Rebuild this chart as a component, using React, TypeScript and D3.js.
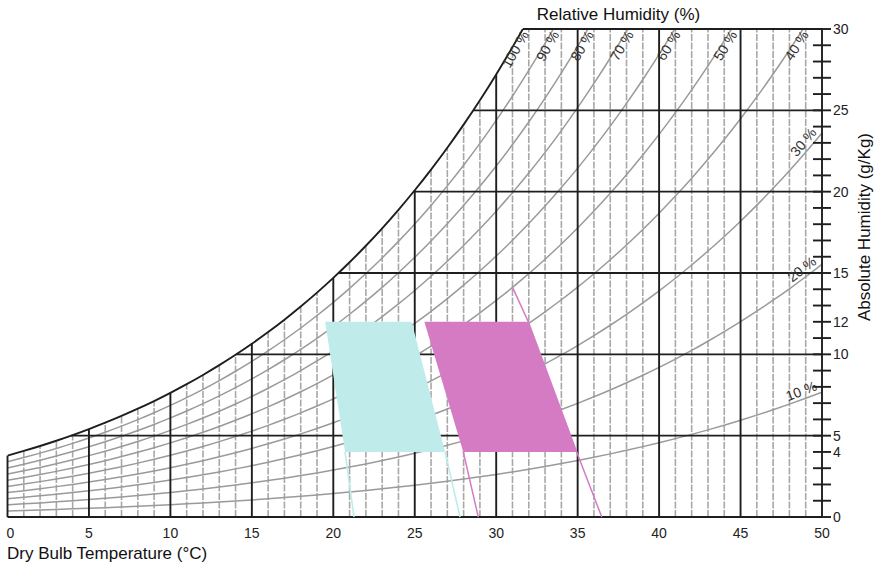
import React from "react";
import * as d3 from "d3";

const W = 882;
const H = 567;

// Dry-bulb temperatures (°C) of the saturation table
const tableTemps = [
  0, 1, 2, 3, 4, 5, 6, 7, 8, 9, 10, 11, 12, 13, 14, 15, 16, 17, 18, 19, 20, 21, 22, 23, 24, 25,
  26, 27, 28, 29, 30, 31, 32, 33, 34, 35, 36, 37, 38, 39, 40, 41, 42, 43, 44, 45, 46, 47, 48, 49, 50,
];
// Saturation vapour pressure of water (kPa) at each table temperature
const satPressure = [
  0.6113, 0.6571, 0.706, 0.7581, 0.8135, 0.8726, 0.9354, 1.0021, 1.073, 1.1482, 1.2282, 1.3129,
  1.4028, 1.4981, 1.5989, 1.7057, 1.8188, 1.9383, 2.0647, 2.1982, 2.3392, 2.4881, 2.6452, 2.8109,
  2.9856, 3.1697, 3.3637, 3.5679, 3.7828, 4.0089, 4.2467, 4.4966, 4.7592, 5.0351, 5.3247, 5.6286,
  5.9475, 6.2818, 6.6324, 6.9997, 7.3844, 7.7873, 8.209, 8.6503, 9.1118, 9.5944, 10.099, 10.626,
  11.176, 11.75, 12.349,
];
const atmPressure = 101.325; // kPa

// Relative humidity curves (%) and their labels
const rhLevels = [10, 20, 30, 40, 50, 60, 70, 80, 90, 100];
const rhLabels = ["10 %", "20 %", "30 %", "40 %", "50 %", "60 %", "70 %", "80 %", "90 %", "100 %"];

// Axis ticks
const tempTicks = [0, 5, 10, 15, 20, 25, 30, 35, 40, 45, 50];
const humidityMinorTicks = [
  0, 1, 2, 3, 4, 5, 6, 7, 8, 9, 10, 11, 12, 13, 14, 15, 16, 17, 18, 19, 20, 21, 22, 23, 24, 25, 26,
  27, 28, 29, 30,
];
const humidityTickLabels = [0, 4, 5, 10, 12, 15, 20, 25, 30];
const humidityGridLines = [5, 10, 15, 20, 25, 30];

// Comfort zones: boundary temperatures (°C) at the listed absolute humidities (g/kg)
const zoneHumidity = [0, 4, 12];
const coolLeft = [21.27, 20.72, 19.5];
const coolRight = [27.78, 26.86, 24.81];
const warmLeft = [28.9, 27.98, 25.59];
const warmRight = [36.48, 34.94, 31.97];
const warmRightTop = [30.99, 14.15]; // [temperature, humidity] where the warm boundary line stops

const xScale = d3.scaleLinear().domain([0, 50]).range([7.5, 822]);
const yScale = d3.scaleLinear().domain([0, 30]).range([517, 29]);
const psAt = d3.scaleLinear().domain(tableTemps).range(satPressure);

function humidity(t: number, rh: number): number {
  const pv = (rh / 100) * psAt(t);
  return (622 * pv) / (atmPressure - pv);
}

// temperature where a relative humidity curve reaches a given absolute humidity
function tempAtHumidity(w: number, rh: number): number {
  for (let i = 0; i < tableTemps.length - 1; i++) {
    const t0 = tableTemps[i];
    const t1 = tableTemps[i + 1];
    const w0 = humidity(t0, rh);
    const w1 = humidity(t1, rh);
    if (w >= w0 && w <= w1) return t0 + ((w - w0) / (w1 - w0)) * (t1 - t0);
  }
  return w < humidity(0, rh) ? 0 : 50;
}

function rhPath(rh: number): string {
  const gen = d3
    .line<number>()
    .x((t) => xScale(t))
    .y((t) => yScale(humidity(t, rh)))
    .curve(d3.curveMonotoneX);
  return gen(tableTemps) || "";
}

function slopeAngle(t: number, rh: number): number {
  const dt = 0.4;
  const xa = xScale(t - dt);
  const xb = xScale(t);
  const ya = yScale(humidity(t - dt, rh));
  const yb = yScale(humidity(t, rh));
  return (Math.atan2(yb - ya, xb - xa) * 180) / Math.PI;
}

const FONT = "'Liberation Sans', Arial, Helvetica, sans-serif";
const BLACK = "#1e1e1e";

export default function App() {
  const wMax = 30;

  const zonePoly = (left: number[], right: number[]) =>
    [
      [left[1], zoneHumidity[1]],
      [left[2], zoneHumidity[2]],
      [right[2], zoneHumidity[2]],
      [right[1], zoneHumidity[1]],
    ]
      .map(([t, w]) => `${xScale(t)},${yScale(w)}`)
      .join(" ");

  const lineFrom = (pts: number[][]) =>
    d3.line<number[]>().x((p) => xScale(p[0])).y((p) => yScale(p[1]))(pts) || "";

  return (
    <svg
      width={W}
      height={H}
      style={{ position: "absolute", left: 0, top: 0, background: "#fff", fontFamily: FONT }}
    >
      <defs>
        <clipPath id="plotArea">
          <rect x={xScale(0)} y={yScale(30)} width={xScale(50) - xScale(0)} height={yScale(0) - yScale(30)} />
        </clipPath>
      </defs>

      {/* 1 °C dashed verticals */}
      <g>
        {tableTemps
          .filter((t) => t % 5 !== 0)
          .map((t) => (
            <line
              key={`v${t}`}
              x1={xScale(t)}
              x2={xScale(t)}
              y1={yScale(0)}
              y2={yScale(Math.min(humidity(t, 100), wMax))}
              stroke="#a8a8a8"
              strokeWidth={1.6}
              strokeDasharray="7 1.5"
            />
          ))}
      </g>

      {/* relative humidity curves */}
      <g clipPath="url(#plotArea)">
        {rhLevels
          .filter((rh) => rh < 100)
          .map((rh) => (
            <path key={`rh${rh}`} d={rhPath(rh)} fill="none" stroke="#9a9a9a" strokeWidth={1.5} />
          ))}
      </g>

      {/* 5 °C black verticals */}
      <g>
        {tempTicks.map((t) => (
          <line
            key={`bv${t}`}
            x1={xScale(t)}
            x2={xScale(t)}
            y1={yScale(0)}
            y2={yScale(t === 50 ? wMax : Math.min(humidity(t, 100), wMax))}
            stroke={BLACK}
            strokeWidth={1.9}
          />
        ))}
      </g>

      {/* humidity black horizontals */}
      <g>
        <line x1={xScale(0)} x2={xScale(50)} y1={yScale(0)} y2={yScale(0)} stroke={BLACK} strokeWidth={1.9} />
        {humidityGridLines.map((w) => (
          <line
            key={`bh${w}`}
            x1={xScale(tempAtHumidity(w, 100))}
            x2={xScale(50)}
            y1={yScale(w)}
            y2={yScale(w)}
            stroke={BLACK}
            strokeWidth={1.9}
          />
        ))}
      </g>

      {/* saturation curve */}
      <g clipPath="url(#plotArea)">
        <path d={rhPath(100)} fill="none" stroke={BLACK} strokeWidth={1.9} />
      </g>

      {/* comfort zones */}
      <g>
        <polygon points={zonePoly(coolLeft, coolRight)} fill="#bfecea" />
        <path d={lineFrom([[coolLeft[1], 4], [coolLeft[0], 0]])} stroke="#bfecea" strokeWidth={1.6} fill="none" />
        <path d={lineFrom([[coolRight[1], 4], [coolRight[0], 0]])} stroke="#bfecea" strokeWidth={1.6} fill="none" />
        <polygon points={zonePoly(warmLeft, warmRight)} fill="#d47bc3" />
        <path d={lineFrom([[warmLeft[1], 4], [warmLeft[0], 0]])} stroke="#d47bc3" strokeWidth={1.5} fill="none" />
        <path
          d={lineFrom([
            [warmRightTop[0], warmRightTop[1]],
            [warmRight[2], 12],
            [warmRight[1], 4],
            [warmRight[0], 0],
          ])}
          stroke="#d47bc3"
          strokeWidth={1.5}
          fill="none"
        />
      </g>

      {/* relative humidity labels */}
      <g fontSize={14} fill="#333">
        {rhLevels.map((rh, i) => {
          const atTop = humidity(50, rh) > wMax;
          const t = atTop ? tempAtHumidity(wMax, rh) : 50;
          const w = atTop ? wMax : humidity(50, rh);
          const ang = slopeAngle(t, rh);
          return (
            <text
              key={`rl${rh}`}
              transform={`translate(${xScale(t)},${yScale(w)}) rotate(${ang})`}
              textAnchor="end"
              x={atTop ? -1.5 : -3}
              dy={atTop ? "0.6em" : "-0.25em"}
            >
              {rhLabels[i]}
            </text>
          );
        })}
      </g>

      {/* right axis ticks */}
      <g>
        {humidityMinorTicks.map((w) => (
          <line key={`tk${w}`} x1={813} x2={831} y1={yScale(w)} y2={yScale(w)} stroke={BLACK} strokeWidth={1.9} />
        ))}
      </g>

      {/* tick labels */}
      <g fontSize={14} fill="#222">
        {tempTicks.map((t) => (
          <text key={`xl${t}`} x={xScale(t) + (t === 0 ? 3 : 0)} y={537.5} textAnchor="middle">
            {t}
          </text>
        ))}
        {humidityTickLabels.map((w) => (
          <text key={`yl${w}`} x={833} y={yScale(w)} dy="0.35em" textAnchor="start">
            {w}
          </text>
        ))}
      </g>

      {/* axis titles */}
      <text x={618.5} y={20} fontSize={17} textAnchor="middle" fill="#111">
        Relative Humidity (%)
      </text>
      <text transform="translate(870,227) rotate(-90)" fontSize={17} textAnchor="middle" fill="#111">
        Absolute Humidity (g/Kg)
      </text>
      <text x={7} y={559} fontSize={17} textAnchor="start" fill="#111">
        Dry Bulb Temperature (°C)
      </text>
    </svg>
  );
}
